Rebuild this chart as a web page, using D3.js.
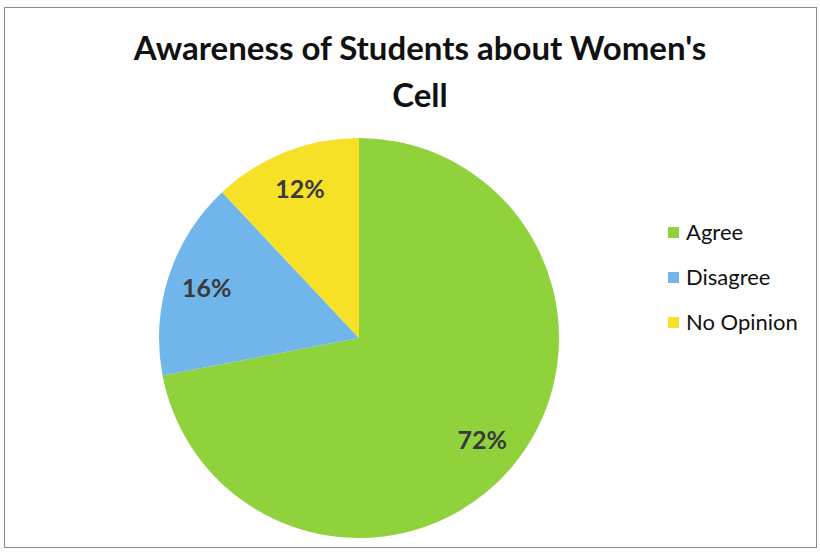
<!DOCTYPE html>
<html>
<head>
<meta charset="utf-8">
<script src="https://cdn.jsdelivr.net/npm/d3@7"></script>
<style>
  body { margin: 0; background: #fdfdfd; }
  text { font-family: Lato, "Open Sans", sans-serif; }
</style>
</head>
<body>
<div id="chart"></div>
<script>
// Data
var categories = ["Agree", "Disagree", "No Opinion"];
var percents = [72, 16, 12];
var colours = ["#8fd23c", "#70b6ea", "#f6e126"];
var title_lines = ["Awareness of Students about Women's", "Cell"];

var width = 820, height = 552;
var cx = 359, cy = 338, radius = 200;

var svg = d3.select("#chart").append("svg")
    .attr("width", width)
    .attr("height", height);

// chart frame
svg.append("rect")
    .attr("x", 4.5).attr("y", 7.5)
    .attr("width", 812).attr("height", 540)
    .attr("fill", "#ffffff")
    .attr("stroke", "#8a8a8a")
    .attr("stroke-width", 1);

svg.selectAll(".title")
    .data(title_lines)
    .enter().append("text")
    .attr("class", "title")
    .attr("x", 420)
    .attr("y", function(d, i) { return 60 + i * 47; })
    .attr("text-anchor", "middle")
    .style("font-size", "33px")
    .style("font-weight", "bold")
    .style("fill", "#111")
    .text(function(d) { return d; });

var colour = d3.scaleOrdinal().domain(categories).range(colours);

var pie = d3.pie()
    .sort(null)
    .value(function(d) { return d.value; });

var data = categories.map(function(c, i) { return {name: c, value: percents[i]}; });

var arc = d3.arc().innerRadius(0).outerRadius(radius);
var label_arc = d3.arc().innerRadius(radius * 0.8).outerRadius(radius * 0.8);

var g = svg.append("g")
    .attr("transform", "translate(" + cx + "," + cy + ")");

var slices = g.selectAll(".arc")
    .data(pie(data))
    .enter().append("g")
    .attr("class", "arc");

slices.append("path")
    .attr("d", arc)
    .style("fill", function(d) { return colour(d.data.name); });

slices.append("text")
    .attr("transform", function(d) { return "translate(" + label_arc.centroid(d) + ")"; })
    .attr("dy", "0.35em")
    .attr("text-anchor", "middle")
    .style("font-size", "25px")
    .style("font-weight", "bold")
    .style("fill", "#3a3a3a")
    .text(function(d) { return d.data.value + "%"; });

// legend
var legend_size = 11, legend_spacing = 45;
var legend = svg.selectAll(".legend")
    .data(categories)
    .enter().append("g")
    .attr("class", "legend")
    .attr("transform", function(d, i) {
        return "translate(668," + (227 + i * legend_spacing) + ")";
    });
legend.append("rect")
    .attr("width", legend_size)
    .attr("height", legend_size)
    .style("fill", colour);
legend.append("text")
    .attr("x", 18)
    .attr("y", legend_size / 2)
    .attr("dy", "0.35em")
    .style("font-size", "22px")
    .style("fill", "#111")
    .text(function(d) { return d; });
</script>
</body>
</html>
